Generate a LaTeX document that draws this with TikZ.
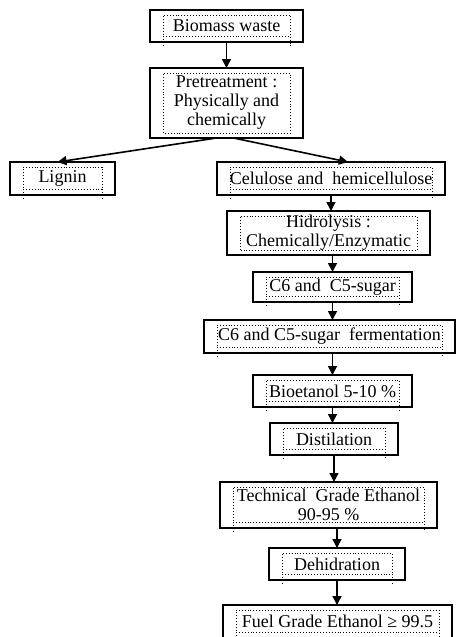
\documentclass[tikz,border=0pt]{standalone}
\usepackage{fontspec}
\setmainfont{Liberation Serif}
\usetikzlibrary{positioning,arrows.meta}

\begin{document}
\begin{tikzpicture}[node distance=20pt, auto, >={Triangle[length=9pt,width=9pt]},
  proc/.style={draw, line width=1.6pt, align=center, inner sep=0pt, outer sep=0pt, minimum height=32pt,
    font=\fontsize{18}{19}\selectfont},
  frame/.style={dotted, line width=0.9pt},
  flow/.style={->, line width=1.6pt}]
\useasboundingbox (0,0) rectangle (457pt,-637pt);
\node[proc, minimum width=153pt] (bio) at (226.5pt,-26pt) {Biomass waste};
  \node[proc, minimum width=153pt, minimum height=70pt] (pre) [below=26pt of bio] {Pretreatment :\\Physically and\\chemically};
  \node[proc, minimum width=105pt, minimum height=33pt] (lig) [below=24pt of pre, xshift=-164pt] {Lignin};
  \node[proc, minimum width=228pt, minimum height=33pt] (cel) [below=24pt of pre, xshift=104.5pt] {Celulose and~ hemicellulose};
  \node[proc, minimum width=203pt, minimum height=44pt] (hid) [below=16pt of cel, xshift=-2.5pt] {Hidrolysis :\\Chemically/Enzymatic};
  \node[proc, minimum width=159pt, minimum height=30pt] (sug) [below=17pt of hid, xshift=4pt] {C6 and~ C5-sugar};
  \node[proc, minimum width=251pt, minimum height=33pt] (fer) [below=18pt of sug, xshift=-3pt] {C6 and C5-sugar~ fermentation};
  \node[proc, minimum width=159pt] (eta) [below=22pt of fer, xshift=3pt] {Bioetanol 5-10 \%};
  \node[proc, minimum width=128pt] (dis) [below=16pt of eta, xshift=1.5pt] {Distilation};
  \node[proc, minimum width=217pt, minimum height=46pt] (tec) [below=27pt of dis, xshift=-5.5pt] {Technical~ Grade Ethanol\\90-95 \%};
  \node[proc, minimum width=136pt] (deh) [below=20pt of tec, xshift=8.5pt] {Dehidration};
  \node[proc, minimum width=229pt, minimum height=33pt] (fue) [below=25pt of deh, xshift=0.5pt] {Fuel Grade Ethanol ≥ 99.5};
  % dotted text frames
  \foreach \n in {bio,lig,cel,sug,fer,eta,dis,tec,deh,fue}{
    \draw[frame] ([shift={(13pt,-4pt)}]\n.south west) -- ([shift={(13pt,-5pt)}]\n.north west)
      -- ([shift={(-13pt,-5pt)}]\n.north east) -- ([shift={(-13pt,-4pt)}]\n.south east);
    \draw[frame] ([shift={(13pt,6pt)}]\n.south west) -- ([shift={(-13pt,6pt)}]\n.south east);
  }
  \foreach \n in {pre,hid}{
    \draw[frame] ([shift={(13pt,5pt)}]\n.south west) rectangle ([shift={(-13pt,-5pt)}]\n.north east);
  }
   \draw[flow] (bio) -- (pre);
   \draw[flow] ([xshift=-10pt]pre.south) -- ([xshift=-5pt]lig.north);
   \draw[flow] ([xshift=7pt]pre.south) -- ([xshift=17pt]cel.north);
   \draw[flow] (cel.south) -- (cel.south |- hid.north);
   \draw[flow] (sug.north |- hid.south) -- (sug.north);
   \draw[flow] (sug.south) -- (sug.south |- fer.north);
   \draw[flow] (eta.north |- fer.south) -- (eta.north);
   \draw[flow] (eta.south) -- (eta.south |- dis.north);
   \draw[flow] (dis.south) -- (dis.south |- tec.north);
   \draw[flow] (deh.north |- tec.south) -- (deh.north);
   \draw[flow] (deh.south) -- (deh.south |- fue.north);
\end{tikzpicture}
\end{document}
